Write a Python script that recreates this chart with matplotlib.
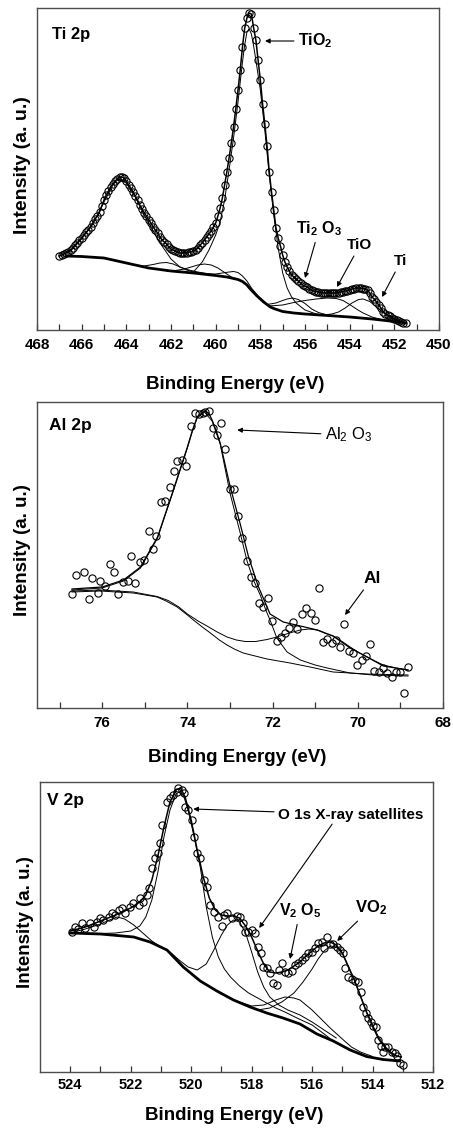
import numpy as np
import matplotlib
matplotlib.use('Agg')
import matplotlib.pyplot as plt

plt.rcParams['font.family'] = ['Liberation Sans', 'DejaVu Sans']
plt.rcParams['font.weight'] = 'bold'
plt.rcParams['mathtext.default'] = 'regular'

# ---------------- Ti 2p ----------------
# spectrometer step 0.1 eV, 467.0 -> 451.5
ti_energy = np.round(np.linspace(467.0, 451.5, 156), 1)
ti_counts = [74, 75, 76, 77, 78.5, 80, 82, 85, 87, 90,
             92, 95, 98, 100, 103, 107, 111, 114, 118, 124,
             130, 135, 139, 143, 146, 149, 151, 153, 153, 152,
             149, 145, 142, 138, 134, 130, 125, 121, 117, 114,
             110, 107, 103, 100, 97, 93, 90, 88, 86, 83,
             81, 80, 79, 78, 77, 77, 77, 77, 78, 78,
             79, 80, 82, 85, 87, 90, 93, 96, 99, 103,
             107, 114, 122, 132, 145, 158, 172, 187, 203, 221,
             240, 260, 283, 302, 312, 317, 316, 302, 290, 270,
             250, 226, 206, 184, 158, 138, 120, 102, 92, 84,
             75, 68, 63, 59, 55, 53, 51, 49, 47, 45,
             44, 43, 41, 40, 39, 38.5, 38, 37.5, 37, 37,
             37, 37, 37, 37, 37, 37.5, 38, 38.5, 39, 39.5,
             40, 41, 41.5, 42, 42, 42, 41.5, 41, 40, 37,
             33, 31, 28, 25, 22, 18, 16.5, 15, 14, 12.5,
             11.5, 10.5, 9.5, 8.5, 7.5, 7]

ti_bg_e = [466.7, 466.0, 465.0, 464.0, 463.0, 462.0, 461.0, 460.0, 459.5, 459.0,
           458.8, 458.6, 458.45, 458.3, 458.15, 458.0, 457.85, 457.7, 457.55, 457.4,
           457.2, 457.0, 456.5, 456.0, 455.0, 454.0, 453.0, 452.0, 451.5]
ti_bg_i = [74, 73.5, 72, 67, 62, 59, 57, 54.5, 53, 50.5,
           48.5, 45, 41, 37.5, 34, 31, 28, 25.5, 23, 21.5,
           20, 18.5, 17, 16, 14.5, 13, 11, 8.5, 7]

ti_a_e = [467.0, 466.5, 466.0, 465.5, 465.0, 464.6, 464.45, 464.3, 464.15, 464.0,
          463.6, 463.2, 462.8, 462.4, 462.0, 461.6, 461.2, 460.8, 460.4, 460.0]
ti_a_i = [74, 79, 91, 106, 128, 145, 149, 151, 150, 147,
          133, 115, 99, 84, 71, 63, 60, 58, 56.5, 55]
ti_b_e = [463.6, 463.2, 462.8, 462.5, 462.2, 461.9, 461.6, 461.3, 461.0, 460.6]
ti_b_i = [65, 64, 65.5, 67, 67.5, 66, 63, 60, 58, 56.5]
ti_c_e = [462.2, 461.8, 461.4, 461.1, 460.8, 460.5, 460.2, 459.9, 459.6, 459.3, 459.0]
ti_c_i = [59, 59.5, 61, 63, 65, 66, 65, 62, 57.5, 53, 50.5]
ti_d_e = [460.4, 460.0, 459.7, 459.4, 459.2, 459.0, 458.8, 458.6, 458.4, 458.1, 457.8]
ti_d_i = [56, 56, 57, 58, 58.5, 57.5, 54, 49, 42, 34, 28]
ti_tio2_e = [461.0, 460.6, 460.3, 460.0, 459.8, 459.6, 459.4, 459.2, 459.0, 458.8,
             458.7, 458.6, 458.5, 458.4, 458.3, 458.2, 458.0, 457.8, 457.6, 457.4,
             457.2, 457.0, 456.8, 456.6, 456.4, 456.0, 455.5, 455.0]
ti_tio2_i = [58, 68, 80, 95, 108, 130, 160, 192, 228, 268,
             285, 298, 301, 296, 284, 270, 240, 200, 155, 115,
             82, 57, 42, 33, 27, 20, 16, 14.5]
ti_ti2o3_e = [457.9, 457.7, 457.3, 457.0, 456.8, 456.55, 456.3, 456.0, 455.7, 455.4, 455.0, 454.5]
ti_ti2o3_i = [28, 25.5, 27, 29.5, 31, 32, 30.5, 26.5, 21, 17.5, 15, 14]
ti_tio_e = [457.6, 457.0, 456.5, 456.0, 455.5, 455.0, 454.6, 454.3, 454.0, 453.7, 453.4, 453.0, 452.5, 452.0]
ti_tio_i = [24, 25, 27.5, 29.5, 31, 32, 31.5, 29.5, 25.5, 21, 17, 13, 10, 8.5]
ti_ti_e = [455.2, 454.8, 454.5, 454.2, 453.9, 453.6, 453.4, 453.1, 452.8, 452.5, 452.2, 451.9, 451.5]
ti_ti_i = [15, 16, 18, 22, 27, 30.5, 31, 28.5, 23, 17.5, 12.5, 9.5, 7]

# ---------------- Al 2p ----------------
al_energy = [76.70, 76.61, 76.42, 76.31, 76.23, 76.09, 76.05, 75.93, 75.81, 75.72,
             75.62, 75.51, 75.39, 75.32, 75.23, 75.11, 75.01, 74.90, 74.80, 74.73,
             74.62, 74.52, 74.40, 74.31, 74.24, 74.12, 74.03, 73.91, 73.82, 73.72,
             73.63, 73.58, 73.49, 73.39, 73.30, 73.21, 73.11, 73.00, 72.90, 72.81,
             72.71, 72.60, 72.50, 72.41, 72.31, 72.22, 72.10, 72.01, 71.89, 71.80,
             71.70, 71.61, 71.52, 71.42, 71.31, 71.21, 71.09, 71.00, 70.91, 70.81,
             70.72, 70.60, 70.51, 70.41, 70.32, 70.20, 70.11, 70.01, 69.90, 69.80,
             69.71, 69.62, 69.50, 69.40, 69.31, 69.19, 69.10, 69.00, 68.91, 68.82]
al_counts = [114, 133, 136, 109, 130, 115, 127, 122, 144, 136,
             114, 126, 127, 152, 125, 146, 148, 177, 159, 172,
             206, 207, 221, 237, 247, 248, 242, 282, 295, 294,
             295, 296, 297, 280, 273, 285, 259, 219, 219, 192,
             170, 147, 131, 125, 105, 101, 110, 87, 67, 71,
             75, 80, 86, 79, 94, 100, 95, 88, 120, 66,
             69, 65, 68, 61, 84, 57, 55, 43, 48, 52,
             64, 37, 36, 40, 35, 31, 36, 36, 15, 41]

al_fit_e = [76.71, 76.0, 75.5, 75.1, 74.7, 74.33, 74.0, 73.88, 73.77, 73.6,
            73.5, 73.42, 73.33, 73.23, 73.0, 72.76, 72.57, 72.34, 72.06, 71.75,
            71.35, 70.95, 70.58, 70.18, 69.78, 69.4, 68.82]
al_fit_i = [119, 121, 128, 141, 171, 218, 261, 278, 291, 297,
            295, 288, 278, 265, 222, 184, 152, 122, 94, 86,
            82, 78, 72, 60, 51, 42, 38]
al_ox_e = [76.71, 76.0, 75.5, 75.1, 74.7, 74.33, 74.0, 73.88, 73.77, 73.6,
           73.42, 73.23, 73.0, 72.76, 72.6, 72.45, 72.29, 72.15, 72.06, 71.9,
           71.66, 71.35, 71.0, 70.72, 70.18, 69.64, 68.82]
al_ox_i = [118, 120, 127, 140, 170, 217, 260, 277, 290, 296,
           287, 264, 215, 175, 147, 128, 113, 97, 88, 70,
           56, 48, 43, 40, 35, 33, 32]
al_met_e = [76.71, 76.05, 75.27, 74.71, 74.45, 74.2, 74.0, 73.75, 73.54, 73.3,
            73.07, 72.85, 72.64, 72.4, 72.13, 71.9, 71.6, 71.35, 71.15, 70.95,
            70.75, 70.58, 70.35, 70.18, 70.0, 69.78, 69.6, 69.4, 69.1, 68.82]
al_met_i = [117, 118, 116, 111.5, 107.5, 101, 94, 87, 82, 76,
            71, 68, 66.5, 66.5, 68.5, 71, 75, 78, 79, 78,
            74.5, 72, 66, 61, 56, 51, 47, 43, 40, 38]
al_bg_e = [76.71, 76.05, 75.27, 74.71, 74.5, 74.24, 74.0, 73.86, 73.65, 73.46,
           73.25, 73.07, 72.9, 72.69, 72.13, 71.59, 71.12, 70.58, 69.78, 68.82]
al_bg_i = [116, 117, 115, 111, 107, 101, 93, 88, 81, 75,
           68, 63, 59, 55, 49, 45, 41, 36, 34, 33]

# ---------------- V 2p ----------------
v_energy = [523.94, 523.83, 523.73, 523.61, 523.50, 523.34, 523.23, 523.12, 523.01, 522.90,
            522.73, 522.62, 522.51, 522.40, 522.29, 522.18, 522.02, 521.91, 521.74, 521.69,
            521.58, 521.46, 521.41, 521.30, 521.19, 521.11, 521.02, 520.97, 520.80, 520.69,
            520.59, 520.47, 520.42, 520.31, 520.25, 520.20, 520.09, 519.98, 519.92, 519.81,
            519.70, 519.59, 519.48, 519.37, 519.26, 519.10, 518.99, 518.93, 518.82, 518.65,
            518.49, 518.38, 518.27, 518.21, 518.11, 517.99, 517.88, 517.78, 517.70, 517.61,
            517.50, 517.39, 517.28, 517.17, 517.11, 517.00, 516.89, 516.78, 516.67, 516.56,
            516.45, 516.34, 516.23, 516.12, 516.01, 515.90, 515.79, 515.68, 515.60, 515.50,
            515.40, 515.30, 515.18, 515.07, 514.98, 514.91, 514.80, 514.69, 514.58, 514.47,
            514.39, 514.30, 514.22, 514.14, 514.05, 513.97, 513.88, 513.81, 513.72, 513.64,
            513.59, 513.48, 513.37, 513.26, 513.20, 513.09, 513.00]
v_counts = [140, 145, 143, 149, 144, 149, 145, 150, 154, 152,
            155, 159, 157, 162, 164, 159, 165, 169, 167, 174,
            170, 177, 184, 204, 214, 219, 229, 247, 270, 274,
            277, 280, 284, 282, 279, 265, 262, 252, 235, 219,
            214, 192, 185, 167, 160, 155, 146, 157, 159, 154,
            156, 155, 149, 140, 140, 142, 139, 125, 119, 105,
            104, 99, 89, 87, 102, 109, 100, 99, 101, 107,
            109, 112, 115, 119, 120, 124, 129, 130, 124, 135,
            128, 128, 125, 122, 119, 104, 95, 93, 91, 90,
            80, 65, 59, 54, 50, 46, 45, 32, 26, 20,
            25, 25, 20, 19, 16, 9, 7]

v_fit_e = [524.0, 523.5, 523.0, 522.5, 522.0, 521.7, 521.5, 521.3, 521.1, 520.9,
           520.7, 520.5, 520.35, 520.2, 520.0, 519.8, 519.6, 519.4, 519.2, 519.0,
           518.8, 518.6, 518.4, 518.2, 518.0, 517.8, 517.6, 517.4, 517.2, 517.0,
           516.8, 516.6, 516.4, 516.2, 516.0, 515.8, 515.6, 515.4, 515.2, 515.0,
           514.8, 514.6, 514.4, 514.2, 514.0, 513.8, 513.6, 513.4, 513.2, 513.05]
v_fit_i = [141, 145, 151, 157, 164, 170, 177, 192, 216, 245,
           270, 282, 284, 275, 252, 222, 195, 174, 162, 157,
           156, 156, 154, 146, 135, 121, 108, 100, 99, 100,
           102, 106, 110, 116, 121, 126, 129, 130, 127, 119,
           105, 92, 76, 60, 46, 33, 25, 19, 16, 15]
v_sat_e = [524.0, 523.5, 523.0, 522.7, 522.45, 522.2, 521.9, 521.6, 521.3, 521.0,
           520.7, 520.4, 520.1, 519.8, 519.5, 519.25, 519.0, 518.8, 518.6, 518.4,
           518.2, 518.0, 517.8, 517.6, 517.4, 517.1, 516.8, 516.4, 516.0, 515.6, 515.2]
v_sat_i = [139, 143, 148, 152, 155, 153, 147, 139, 131, 125,
           120, 112, 105, 102, 108, 122, 137, 147, 152, 150,
           139, 120, 100, 85, 75, 67, 62, 57, 50, 42, 34]
v_main_e = [524.0, 523.0, 522.5, 522.0, 521.7, 521.5, 521.3, 521.1, 520.9, 520.7,
            520.5, 520.4, 520.25, 520.1, 519.9, 519.7, 519.5, 519.3, 519.1, 518.9,
            518.7, 518.4, 518.1, 517.8, 517.5, 517.2, 516.9, 516.5, 516.0, 515.6, 515.3]
v_main_i = [139, 138.5, 139, 141, 146, 155, 172, 200, 235, 262,
            278, 280, 276, 262, 235, 205, 165, 135, 115, 103,
            95, 86, 79, 74, 69, 64, 60, 54, 47, 38, 31]
v_v2o5_e = [519.0, 518.5, 518.0, 517.6, 517.2, 516.9, 516.6, 516.4, 516.0, 515.7,
            515.4, 515.0, 514.7, 514.4, 514.0]
v_v2o5_i = [78, 71, 66, 67, 72, 75, 74, 72, 62, 53, 44, 33, 25, 20, 15.5]
v_vo2_e = [517.8, 517.4, 517.0, 516.6, 516.3, 516.0, 515.8, 515.6, 515.4, 515.2,
           515.0, 514.8, 514.6, 514.4, 514.2, 514.0, 513.8, 513.6, 513.4, 513.2, 513.05]
v_vo2_i = [62, 64, 70, 79, 90, 103, 113, 121, 126, 125,
           119, 106, 92, 76, 60, 47, 35, 26, 20, 16, 15]
v_bg_e = [524.0, 523.0, 521.9, 521.36, 520.8, 520.26, 519.7, 519.15, 518.6, 518.05,
          517.5, 516.96, 516.4, 515.84, 515.3, 514.74, 514.2, 513.65, 513.1]
v_bg_i = [139, 138, 135, 130, 122, 105, 91, 81, 72, 65,
          59, 54, 48, 38, 31, 22, 15.5, 12.5, 11]


W, H = 453.0, 1130.0
fig = plt.figure(figsize=(W / 100, H / 100), dpi=100)


def make_axes(left, top, right, bottom):
    # pixel box -> figure fraction
    return fig.add_axes([left / W, 1 - bottom / H, (right - left) / W, (bottom - top) / H])


def style_axes(ax, xlim, ylim, major, minor, tsize, pad):
    ax.set_xlim(*xlim)
    ax.set_ylim(*ylim)
    ax.set_xticks(major)
    ax.set_xticklabels([str(t) for t in major])
    ax.set_xticks(minor, minor=True)
    ax.set_yticks([])
    ax.tick_params(axis='x', which='both', direction='in', length=4.5, width=0.9,
                   labelsize=tsize, pad=pad, color='0.2')
    for s in ax.spines.values():
        s.set_color('0.3')
        s.set_linewidth(1.0)


def points(ax, e, i):
    ax.plot(e, i, 'o', mfc='none', mec='k', ms=5.2, mew=0.8, zorder=3)


def curve(ax, e, i, lw=0.7):
    ax.plot(e, i, '-', color='k', lw=lw, zorder=2)


arrow = dict(arrowstyle='-|>', color='k', lw=0.8, mutation_scale=7, shrinkA=1, shrinkB=0)

# ---- panel 1: Ti 2p
ax1 = make_axes(37, 8, 439, 330)
style_axes(ax1, (468, 450), (0, 322), list(range(468, 449, -2)), list(range(467, 450, -2)), 11, 5.5)
curve(ax1, ti_bg_e, ti_bg_i, lw=2.0)
for e, i in [(ti_a_e, ti_a_i), (ti_b_e, ti_b_i), (ti_c_e, ti_c_i), (ti_d_e, ti_d_i),
             (ti_tio2_e, ti_tio2_i), (ti_ti2o3_e, ti_ti2o3_i), (ti_tio_e, ti_tio_i),
             (ti_ti_e, ti_ti_i)]:
    curve(ax1, e, i)
curve(ax1, ti_energy, ti_counts, lw=1.1)
points(ax1, ti_energy, ti_counts)
ax1.text(467.33, 295, 'Ti 2p', fontsize=12, ha='left', va='center')
ax1.annotate('TiO$_2$', xy=(457.79, 289), xytext=(456.31, 289), fontsize=11.5,
             ha='left', va='center', arrowprops=arrow)
ax1.annotate('Ti$_2$ O$_3$', xy=(456.0, 52), xytext=(455.37, 101), fontsize=11.5,
             ha='center', va='center', arrowprops=arrow)
ax1.annotate('TiO', xy=(454.57, 43), xytext=(453.54, 85), fontsize=11,
             ha='center', va='center', arrowprops=arrow)
ax1.annotate('Ti', xy=(452.55, 33), xytext=(451.70, 69), fontsize=11,
             ha='center', va='center', arrowprops=arrow)

# ---- panel 2: Al 2p
ax2 = make_axes(37, 402, 443, 708)
style_axes(ax2, (77.53, 68), (0, 306), [76, 74, 72, 70, 68], [77, 75, 73, 71, 69], 11, 5.5)
curve(ax2, al_bg_e, al_bg_i)
curve(ax2, al_met_e, al_met_i)
curve(ax2, al_ox_e, al_ox_i)
curve(ax2, al_fit_e, al_fit_i, lw=0.9)
points(ax2, al_energy, al_counts)
ax2.text(77.24, 283, 'Al 2p', fontsize=12.5, ha='left', va='center')
ax2.annotate('Al$_2$ O$_3$', xy=(72.83, 278), xytext=(70.77, 273), fontsize=12,
             fontweight='normal', ha='left', va='center', arrowprops=arrow)
ax2.annotate('Al', xy=(70.30, 93), xytext=(69.67, 129.5), fontsize=12.5,
             ha='center', va='center', arrowprops=arrow)

# ---- panel 3: V 2p
ax3 = make_axes(40, 782, 433, 1072)
style_axes(ax3, (525, 512), (0, 290), list(range(524, 511, -2)), list(range(523, 512, -2)), 10.5, 4.5)
curve(ax3, v_bg_e, v_bg_i, lw=2.0)
curve(ax3, v_sat_e, v_sat_i)
curve(ax3, v_main_e, v_main_i)
curve(ax3, v_v2o5_e, v_v2o5_i)
curve(ax3, v_vo2_e, v_vo2_i)
curve(ax3, v_fit_e, v_fit_i, lw=1.1)
points(ax3, v_energy, v_counts)
ax3.text(524.76, 272, 'V 2p', fontsize=12.5, ha='left', va='center')
ax3.annotate('O 1s X-ray satellites', xy=(519.93, 263), xytext=(517.12, 257.5), fontsize=11,
             ha='left', va='center', arrowprops=arrow)
ax3.annotate('', xy=(517.75, 144), xytext=(515.31, 249), arrowprops=arrow)
ax3.annotate('V$_2$ O$_5$', xy=(516.73, 113), xytext=(516.40, 161), fontsize=11.5,
             ha='center', va='center', arrowprops=arrow)
ax3.annotate('VO$_2$', xy=(515.17, 131), xytext=(514.05, 164), fontsize=12,
             ha='center', va='center', arrowprops=arrow)

# axis titles
for x, y in [(235, 384.5), (237.5, 758), (234.5, 1115)]:
    fig.text(x / W, 1 - y / H, 'Binding Energy (eV)', fontsize=13.5, ha='center', va='center')
for x, y, fs in [(22.5, 165, 14), (22.5, 550, 13.5), (25.5, 922, 13.5)]:
    fig.text(x / W, 1 - y / H, 'Intensity (a. u.)', fontsize=fs, rotation=90,
             ha='center', va='center')

fig.savefig('out.png', dpi=100)
